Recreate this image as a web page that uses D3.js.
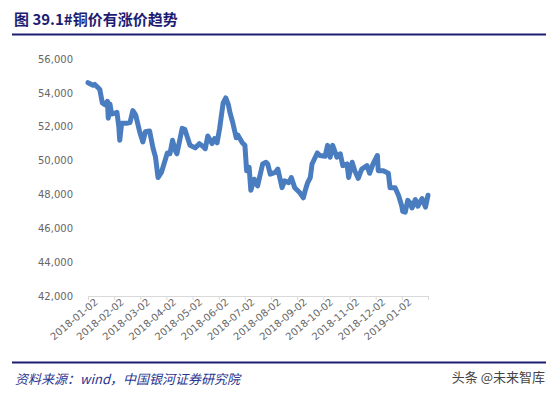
<!DOCTYPE html>
<html>
<head>
<meta charset="utf-8">
<script src="https://cdn.jsdelivr.net/npm/d3@7"></script>
<style>
  html, body { margin: 0; padding: 0; background: #fff; }
  svg { display: block; }
</style>
</head>
<body>
<div class="chart"></div>
<script>
// copper price (yuan/ton)
const dates = [
  "2018-01-02","2018-01-08","2018-01-10","2018-01-14","2018-01-16","2018-01-19","2018-01-22","2018-01-25","2018-01-26","2018-01-28","2018-01-30",
  "2018-02-03","2018-02-05","2018-02-07","2018-02-08","2018-02-10","2018-02-15","2018-02-19","2018-02-22","2018-02-25",
  "2018-03-01","2018-03-05","2018-03-08","2018-03-13","2018-03-17","2018-03-20","2018-03-23","2018-03-27",
  "2018-04-03","2018-04-06","2018-04-09","2018-04-12","2018-04-14","2018-04-20","2018-04-23","2018-04-29",
  "2018-05-05","2018-05-10","2018-05-14","2018-05-17","2018-05-20","2018-05-25","2018-05-28","2018-05-31",
  "2018-06-03","2018-06-07","2018-06-10","2018-06-13","2018-06-15","2018-06-18","2018-06-22","2018-06-24","2018-06-29",
  "2018-07-02","2018-07-04","2018-07-07","2018-07-09","2018-07-13","2018-07-17","2018-07-23","2018-07-27","2018-07-29",
  "2018-08-01","2018-08-07","2018-08-10","2018-08-15","2018-08-18","2018-08-23","2018-08-26","2018-08-30",
  "2018-09-05","2018-09-09","2018-09-11","2018-09-14","2018-09-17","2018-09-19","2018-09-25","2018-09-28",
  "2018-10-04","2018-10-07","2018-10-10","2018-10-13","2018-10-18","2018-10-22","2018-10-25","2018-10-30",
  "2018-11-01","2018-11-05","2018-11-08","2018-11-12","2018-11-16","2018-11-22","2018-11-25","2018-11-29",
  "2018-12-04","2018-12-05","2018-12-11","2018-12-17","2018-12-19","2018-12-25","2018-12-29",
  "2019-01-02","2019-01-03","2019-01-06","2019-01-09","2019-01-12","2019-01-14","2019-01-18","2019-01-21","2019-01-24","2019-01-26","2019-01-30",
  "2019-02-02"
];
const prices = [
  54600,54450,54500,54300,54200,53400,53300,53500,52500,53350,52750,
  52800,52850,52000,51200,52200,52200,52250,52950,52700,
  51750,51100,51700,51750,50750,50200,49000,49300,
  50450,50400,51200,50600,50400,51900,51850,50900,
  50750,51000,50850,50700,51450,51000,51300,51050,
  51900,53400,53700,53300,52800,52250,51350,51500,51050,
  50900,49400,49600,48250,48900,48500,49800,49900,49800,
  49200,49300,49500,48400,48800,48700,49000,48400,
  48100,47800,48200,48700,49000,49800,50450,50300,
  50250,50900,50200,50900,50200,50400,49700,49800,
  49000,49900,49400,48950,49500,49700,49250,49800,
  50300,49400,49400,49250,48400,48400,47950,
  47300,47000,46950,47650,47500,47200,47700,47300,47600,47750,47250,
  47950
];
const xLabels = ["2018-01-02","2018-02-02","2018-03-02","2018-04-02","2018-05-02","2018-06-02",
  "2018-07-02","2018-08-02","2018-09-02","2018-10-02","2018-11-02","2018-12-02","2019-01-02"];
const yTicks = [42000, 44000, 46000, 48000, 50000, 52000, 54000, 56000];

const W = 557, H = 396;
const navy = "#1d1c72";

// months since 2018-01-02, each month the same width like the category axis
function monthPos(s) {
  const [y, m, d] = s.split("-").map(Number);
  const days = new Date(y, m, 0).getDate();
  return (y - 2018) * 12 + (m - 1) + (d - 2) / days;
}

const svg = d3.select(".chart").append("svg")
  .attr("width", W)
  .attr("height", H);

// title
svg.append("text")
  .attr("x", 14)
  .attr("y", 25)
  .attr("fill", navy)
  .style("font-family", "'Noto Sans CJK SC', sans-serif")
  .style("font-size", "15px")
  .style("font-weight", "bold")
  .text("图 39.1#铜价有涨价趋势");

svg.append("line")
  .attr("x1", 12).attr("x2", 546)
  .attr("y1", 34.5).attr("y2", 34.5)
  .attr("stroke", navy)
  .attr("stroke-width", 2);

const x = d3.scaleLinear().domain([0, 13]).range([88, 428]);
const y = d3.scaleLinear().domain([42000, 56000]).range([296, 59]);

// y axis (labels only)
const yAxis = svg.append("g")
  .attr("transform", "translate(88,0)")
  .call(d3.axisLeft(y).tickValues(yTicks).tickFormat(d3.format(",")).tickSize(0).tickPadding(15));
yAxis.select(".domain").remove();
yAxis.selectAll("text")
  .attr("fill", "#666")
  .style("font-family", "'DejaVu Sans', sans-serif")
  .style("font-size", "10px");

// x axis
const xAxis = svg.append("g")
  .attr("transform", `translate(0,${y(42000)})`)
  .call(d3.axisBottom(x)
    .tickValues(d3.range(0, 14))
    .tickFormat(i => xLabels[i] || "")
    .tickSizeInner(4).tickSizeOuter(0));
xAxis.select(".domain").attr("stroke", "#d9d9d9");
xAxis.selectAll(".tick line").attr("stroke", "#d9d9d9");
xAxis.selectAll("text")
  .attr("fill", "#666")
  .style("font-family", "'DejaVu Sans', sans-serif")
  .style("font-size", "10px")
  .attr("text-anchor", "end")
  .attr("dx", "3px")
  .attr("dy", "0.5em")
  .attr("transform", "rotate(-40)");

// price line
const line = d3.line()
  .x((d, i) => x(monthPos(dates[i])))
  .y(d => y(d));

svg.append("path")
  .datum(prices)
  .attr("fill", "none")
  .attr("stroke", "#4a7dbf")
  .attr("stroke-width", 5)
  .attr("stroke-linejoin", "round")
  .attr("stroke-linecap", "round")
  .attr("d", line);

// footer
svg.append("line")
  .attr("x1", 12).attr("x2", 546)
  .attr("y1", 362.5).attr("y2", 362.5)
  .attr("stroke", navy)
  .attr("stroke-width", 2);

svg.append("text")
  .attr("x", 15)
  .attr("y", 384)
  .attr("fill", "#2a3590")
  .style("font-family", "'Noto Sans CJK SC', sans-serif")
  .style("font-size", "13px")
  .style("font-style", "italic")
  .text("资料来源：wind，中国银河证券研究院");

svg.append("text")
  .attr("x", 545)
  .attr("y", 382)
  .attr("text-anchor", "end")
  .attr("fill", "#444")
  .style("font-family", "'Noto Sans CJK SC', sans-serif")
  .style("font-size", "13px")
  .text("头条 @未来智库");
</script>
</body>
</html>
